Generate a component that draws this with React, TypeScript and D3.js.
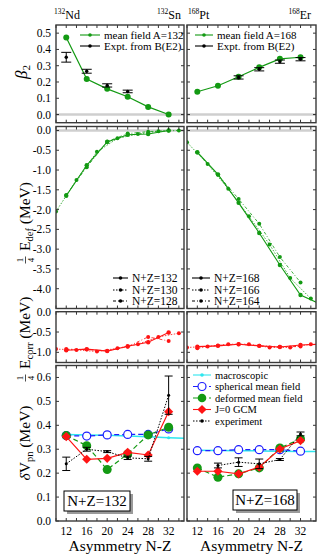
import React from 'react';
import * as d3 from 'd3';

const W = 321;
const H = 557;
const SERIF = "'Liberation Serif', 'DejaVu Serif', serif";

const GREEN = '#139a13';
const RED = '#ff1414';
const BLUE = '#1e1eff';
const CYAN = '#2ee6ee';

// x axis (asymmetry N-Z)
const xTickLabels = [12, 16, 20, 24, 28, 32];
const xMinorTicks = [10, 12, 14, 16, 18, 20, 22, 24, 26, 28, 30, 32, 34];

// y tick labels per row
const betaTicks = [0, 0.1, 0.2, 0.3, 0.4, 0.5];
const edefTicks = [0, -0.5, -1, -1.5, -2, -2.5, -3, -3.5, -4];
const ecorrTicks = [0, -0.5, -1];
const dvTicks = [0, 0.1, 0.2, 0.3, 0.4, 0.5, 0.6];

// beta2 panel
const nzEven4 = [12, 16, 20, 24, 28, 32];
const beta2MfLeft = [0.473, 0.218, 0.158, 0.109, 0.047, 0.0];
const beta2ExpNzLeft = [12, 16, 20, 24];
const beta2ExpLeft = [0.352, 0.266, 0.179, 0.142];
const beta2ErrLeft = [0.03, 0.012, 0.01, 0.008];
const beta2MfRight = [0.14, 0.177, 0.232, 0.29, 0.342, 0.352];
const beta2ExpNzRight = [20, 24, 28, 32];
const beta2ExpRight = [0.228, 0.278, 0.325, 0.34];
const beta2ErrRight = [0.01, 0.01, 0.01, 0.01];

// deformation energy (1/4 E_def)
const nz132 = [12, 16, 20, 24, 28, 32];
const nz130 = [10, 14, 18, 22, 26, 30, 34];
const nz128 = [12, 16, 20, 24, 28, 32];
const edef132 = [-1.65, -0.88, -0.29, -0.11, -0.09, 0.0];
const edef130 = [-2.05, -1.25, -0.54, -0.2, -0.09, -0.02, 0.0];
const edef128 = [-1.63, -0.93, -0.28, -0.08, -0.03, 0.0];
const nz168 = [12, 16, 20, 24, 28, 32, 36];
const nz166 = [10, 14, 18, 22, 26, 30, 34];
const nz164 = [12, 16, 20, 24, 28, 32];
const edef168 = [-0.55, -1.11, -1.83, -2.59, -3.4, -4.16, -4.4];
const edef166 = [-0.3, -0.85, -1.475, -2.17, -2.88, -3.73, -4.25];
const edef164 = [-0.56, -1.12, -1.73, -2.36, -3.2, -3.84];

// correlation energy (1/4 E_corr)
const ecorr132 = [-0.95, -0.92, -0.97, -0.85, -0.75, -0.51];
const ecorr130 = [-0.92, -0.94, -0.98, -0.9, -0.8, -0.62, -0.53];
const ecorr128 = [-0.92, -0.93, -0.96, -0.86, -0.62, -0.72];
const ecorr168 = [-0.86, -0.84, -0.8, -0.84, -0.87, -0.82, -0.8];
const ecorr166 = [-0.88, -0.855, -0.8, -0.8, -0.88, -0.88, -0.8];
const ecorr164 = [-0.9, -0.83, -0.8, -0.84, -0.86, -0.855];

// delta V_pn
const dvMacroNz = [12, 16, 20, 24, 28, 32, 36];
const dvMacroLeft = [0.362, 0.36, 0.358, 0.355, 0.352, 0.348, 0.345];
const dvMacroRight = [0.296, 0.295, 0.294, 0.293, 0.292, 0.291, 0.29];
const dvSphLeft = [0.357, 0.355, 0.36, 0.362, 0.362, 0.385];
const dvDefLeft = [0.357, 0.315, 0.215, 0.28, 0.36, 0.392];
const dvGcmLeft = [0.353, 0.258, 0.262, 0.287, 0.276, 0.457];
const dvExpNzLeft = [12, 16, 20, 24, 28, 32];
const dvExpLeft = [0.239, 0.3, 0.29, 0.264, 0.26, 0.526];
const dvExpErrLeft = [0.028, 0.008, 0.004, 0.007, 0.01, 0.08];
const dvSphRight = [0.294, 0.294, 0.298, 0.298, 0.298, 0.292];
const dvDefRight = [0.222, 0.183, 0.197, 0.222, 0.305, 0.343];
const dvGcmRight = [0.208, 0.208, 0.197, 0.225, 0.301, 0.336];
const dvExpNzRight = [16, 20, 24, 28, 32];
const dvExpRight = [0.232, 0.246, 0.239, 0.257, 0.364];
const dvExpErrRight = [0.01, 0.018, 0.02, 0.004, 0.008];

// layout
const cols = [[56, 184], [187, 316]];
const rows = [[25, 122.7], [126.5, 308.5], [311.7, 362.5], [365.5, 521]];
const rowDomains = [[-0.05, 0.55], [-4.5, 0.1], [-1.25, 0], [0, 0.65]];
const rowTicks = [betaTicks, edefTicks, ecorrTicks, dvTicks];

const fmt = (v: number) => (Math.round(v * 10) / 10 === 0 ? '0.0' : v.toFixed(1));

function linePath(x: any, y: any, nz: number[], vals: number[]) {
  return d3.line<number>().x((_, i) => x(nz[i])).y((d) => y(d))(vals) || '';
}

const diamond = d3.symbol().type(d3.symbolSquare).size(42)() || '';

function Curve({ x, y, nz, vals, color, dash, width = 1, r = 2.2, dots = true }: any) {
  return (
    <g>
      <path d={linePath(x, y, nz, vals)} fill="none" stroke={color} strokeWidth={width} strokeDasharray={dash} />
      {dots && vals.map((v: number, i: number) => (
        <circle key={i} cx={x(nz[i])} cy={y(v)} r={r} fill={color} />
      ))}
    </g>
  );
}

function ErrBars({ x, y, nz, vals, errs, cap = 5, r = 1.7 }: any) {
  return (
    <g>
      {vals.map((v: number, i: number) => {
        const cx = x(nz[i]);
        const y1 = y(v - errs[i]);
        const y2 = y(v + errs[i]);
        return (
          <g key={i}>
            <line x1={cx} x2={cx} y1={y1} y2={y2} stroke="#000" strokeWidth={1} />
            <line x1={cx - cap} x2={cx + cap} y1={y1} y2={y1} stroke="#000" strokeWidth={1} />
            <line x1={cx - cap} x2={cx + cap} y1={y2} y2={y2} stroke="#000" strokeWidth={1} />
            <circle cx={cx} cy={y(v)} r={r} fill="#000" />
          </g>
        );
      })}
    </g>
  );
}

function LegendRow({ x1, x2, y, text, color, dash, marker, size = 11 }: any) {
  const mx = (x1 + x2) / 2;
  return (
    <g>
      <line x1={x1} x2={x2} y1={y} y2={y} stroke={color} strokeWidth={1.1} strokeDasharray={dash} />
      {marker === 'dot' && <circle cx={mx} cy={y} r={1.8} fill={color} />}
      {marker === 'big' && <circle cx={mx} cy={y} r={4.3} fill={color} />}
      {marker === 'open' && <circle cx={mx} cy={y} r={4} fill="#fff" stroke={color} strokeWidth={1.2} />}
      {marker === 'diamond' && <path d={diamond} transform={`translate(${mx},${y}) rotate(45)`} fill={color} />}
      <text x={x2 + 4} y={y} dy="0.35em" fontSize={size} fontFamily={SERIF}>{text}</text>
    </g>
  );
}

function Frac({ fx }: any) {
  return (
    <g>
      <text x={fx} y={-2} textAnchor="middle" fontSize={9} fontFamily={SERIF}>1</text>
      <line x1={fx - 3.5} x2={fx + 3.5} y1={0.5} y2={0.5} stroke="#000" strokeWidth={0.7} />
      <text x={fx} y={8.5} textAnchor="middle" fontSize={9} fontFamily={SERIF}>4</text>
    </g>
  );
}

function Boxed({ x, y, w, h, text }: any) {
  return (
    <g>
      <rect x={x + 3} y={y + 3} width={w} height={h} fill="#9a9a9a" />
      <rect x={x} y={y} width={w} height={h} fill="#fff" stroke="#000" strokeWidth={1} />
      <text x={x + w / 2} y={y + h / 2} dy="0.35em" textAnchor="middle" fontSize={15} fontFamily={SERIF}>{text}</text>
    </g>
  );
}

export default function App() {
  const xs = cols.map(([a, b]) => d3.scaleLinear().domain([10, 35]).range([a, b]));
  const ys = rows.map(([a, b], i) => d3.scaleLinear().domain(rowDomains[i]).range([b, a]));

  const clip = (r: number, c: number) => `url(#clip-${r}-${c})`;

  return (
    <svg width={W} height={H} style={{ position: 'absolute', left: 0, top: 0, background: '#fff' }} fontFamily={SERIF}>
      <defs>
        {rows.map(([y0, y1], r) => cols.map(([x0, x1], c) => (
          <clipPath key={`${r}-${c}`} id={`clip-${r}-${c}`}>
            <rect x={x0} y={y0} width={x1 - x0} height={y1 - y0} />
          </clipPath>
        )))}
      </defs>

      {/* zero reference lines */}
      {[0, 1].map((c) => (
        <g key={c}>
          <line x1={cols[c][0]} x2={cols[c][1]} y1={ys[0](0)} y2={ys[0](0)} stroke="#cfcfcf" strokeWidth={2.5} />
          <line x1={cols[c][0]} x2={cols[c][1]} y1={ys[1](0)} y2={ys[1](0)} stroke="#cfcfcf" strokeWidth={2.5} />
        </g>
      ))}

      {/* row 1: beta2 */}
      <g clipPath={clip(0, 0)}>
        <Curve x={xs[0]} y={ys[0]} nz={nzEven4} vals={beta2MfLeft} color={GREEN} width={1.2} r={3} />
        <ErrBars x={xs[0]} y={ys[0]} nz={beta2ExpNzLeft} vals={beta2ExpLeft} errs={beta2ErrLeft} />
      </g>
      <g clipPath={clip(0, 1)}>
        <Curve x={xs[1]} y={ys[0]} nz={nzEven4} vals={beta2MfRight} color={GREEN} width={1.2} r={3} />
        <ErrBars x={xs[1]} y={ys[0]} nz={beta2ExpNzRight} vals={beta2ExpRight} errs={beta2ErrRight} />
      </g>

      {/* row 2: E_def */}
      <g clipPath={clip(1, 0)}>
        <Curve x={xs[0]} y={ys[1]} nz={nz128} vals={edef128} color={GREEN} dash="3,2,1,2" width={0.8} r={2} />
        <Curve x={xs[0]} y={ys[1]} nz={nz130} vals={edef130} color={GREEN} dash="1.5,1.5" width={0.8} r={2} />
        <Curve x={xs[0]} y={ys[1]} nz={nz132} vals={edef132} color={GREEN} width={1.1} r={2.2} />
      </g>
      <g clipPath={clip(1, 1)}>
        <Curve x={xs[1]} y={ys[1]} nz={nz164} vals={edef164} color={GREEN} dash="3,2,1,2" width={0.8} r={2} />
        <Curve x={xs[1]} y={ys[1]} nz={nz166} vals={edef166} color={GREEN} dash="1.5,1.5" width={0.8} r={2} />
        <Curve x={xs[1]} y={ys[1]} nz={nz168} vals={edef168} color={GREEN} width={1.1} r={2.2} />
      </g>

      {/* row 3: E_corr */}
      <g clipPath={clip(2, 0)}>
        <Curve x={xs[0]} y={ys[2]} nz={nz128} vals={ecorr128} color={RED} dash="3,2,1,2" width={0.8} r={2} />
        <Curve x={xs[0]} y={ys[2]} nz={nz130} vals={ecorr130} color={RED} dash="1.5,1.5" width={0.8} r={2} />
        <Curve x={xs[0]} y={ys[2]} nz={nz132} vals={ecorr132} color={RED} width={1.1} r={2.2} />
      </g>
      <g clipPath={clip(2, 1)}>
        <Curve x={xs[1]} y={ys[2]} nz={nz164} vals={ecorr164} color={RED} dash="3,2,1,2" width={0.8} r={2} />
        <Curve x={xs[1]} y={ys[2]} nz={nz166} vals={ecorr166} color={RED} dash="1.5,1.5" width={0.8} r={2} />
        <Curve x={xs[1]} y={ys[2]} nz={nz168} vals={ecorr168} color={RED} width={1.1} r={2.2} />
      </g>

      {/* row 4: delta V_pn */}
      {[0, 1].map((c) => {
        const x = xs[c];
        const y = ys[3];
        const macro = c === 0 ? dvMacroLeft : dvMacroRight;
        const sph = c === 0 ? dvSphLeft : dvSphRight;
        const def = c === 0 ? dvDefLeft : dvDefRight;
        const gcm = c === 0 ? dvGcmLeft : dvGcmRight;
        const expNz = c === 0 ? dvExpNzLeft : dvExpNzRight;
        const exp = c === 0 ? dvExpLeft : dvExpRight;
        const err = c === 0 ? dvExpErrLeft : dvExpErrRight;
        return (
          <g key={c} clipPath={clip(3, c)}>
            <Curve x={x} y={y} nz={dvMacroNz} vals={macro} color={CYAN} width={1.5} r={1.6} />
            <path d={linePath(x, y, nzEven4, sph)} fill="none" stroke={BLUE} strokeWidth={1.2} strokeDasharray="5,3" />
            {sph.map((v, i) => (
              <circle key={i} cx={x(nzEven4[i])} cy={y(v)} r={4} fill="#fff" stroke={BLUE} strokeWidth={1.2} />
            ))}
            <path d={linePath(x, y, nzEven4, def)} fill="none" stroke={GREEN} strokeWidth={1.2} strokeDasharray="5,3" />
            {def.map((v, i) => (
              <circle key={i} cx={x(nzEven4[i])} cy={y(v)} r={4.5} fill={GREEN} />
            ))}
            <path d={linePath(x, y, nzEven4, gcm)} fill="none" stroke={RED} strokeWidth={1.2} />
            {gcm.map((v, i) => (
              <path key={i} d={diamond} transform={`translate(${x(nzEven4[i])},${y(v)}) rotate(45)`} fill={RED} />
            ))}
            <path d={linePath(x, y, expNz, exp)} fill="none" stroke="#000" strokeWidth={1} strokeDasharray="1.5,1.5" />
            <ErrBars x={x} y={y} nz={expNz} vals={exp} errs={err} cap={4} r={1.5} />
          </g>
        );
      })}

      {/* frames and ticks */}
      {rows.map(([y0, y1], r) => cols.map(([x0, x1], c) => {
        const y = ys[r];
        return (
          <g key={`${r}-${c}`}>
            {xMinorTicks.map((t) => (
              <g key={t}>
                <line x1={xs[c](t)} x2={xs[c](t)} y1={y1} y2={y1 - 3} stroke="#000" strokeWidth={0.8} />
                <line x1={xs[c](t)} x2={xs[c](t)} y1={y0} y2={y0 + 3} stroke="#000" strokeWidth={0.8} />
              </g>
            ))}
            {rowTicks[r].map((t) => (
              <g key={t}>
                <line x1={x0} x2={x0 + 3} y1={y(t)} y2={y(t)} stroke="#000" strokeWidth={0.8} />
                <line x1={x1} x2={x1 - 3} y1={y(t)} y2={y(t)} stroke="#000" strokeWidth={0.8} />
              </g>
            ))}
            <rect x={x0} y={y0} width={x1 - x0} height={y1 - y0} fill="none" stroke="#3a3a3a" strokeWidth={1.4} />
          </g>
        );
      }))}

      {/* y tick labels */}
      {rows.map((_, r) => rowTicks[r].map((t) => (
        <text key={`${r}-${t}`} x={51} y={ys[r](t)} dy="0.35em" textAnchor="end" fontSize={11.5}>{fmt(t)}</text>
      )))}

      {/* x tick labels */}
      {[0, 1].map((c) => xTickLabels.map((t) => (
        <text key={`${c}-${t}`} x={xs[c](t)} y={535} textAnchor="middle" fontSize={11.5}>{t}</text>
      )))}
      {[0, 1].map((c) => (
        <text key={c} x={(cols[c][0] + cols[c][1]) / 2} y={551} textAnchor="middle" fontSize={15.5}>Asymmetry N-Z</text>
      ))}

      {/* nucleus labels */}
      <text x={54} y={19} fontSize={12}><tspan fontSize={7.5} dy={-5}>132</tspan><tspan dy={5}>Nd</tspan></text>
      <text x={181} y={19} fontSize={12} textAnchor="end"><tspan fontSize={7.5} dy={-5}>132</tspan><tspan dy={5}>Sn</tspan></text>
      <text x={188} y={19} fontSize={12}><tspan fontSize={7.5} dy={-5}>168</tspan><tspan dy={5}>Pt</tspan></text>
      <text x={311} y={19} fontSize={12} textAnchor="end"><tspan fontSize={7.5} dy={-5}>168</tspan><tspan dy={5}>Er</tspan></text>

      {/* legends row 1 */}
      <LegendRow x1={80} x2={100} y={35} text="mean field A=132" color={GREEN} marker="dot" />
      <LegendRow x1={80} x2={100} y={46} text="Expt. from B(E2)" color="#000" marker="dot" />
      <LegendRow x1={195} x2={213} y={35} text="mean field A=168" color={GREEN} marker="dot" />
      <LegendRow x1={195} x2={213} y={46} text="Expt. from B(E2)" color="#000" marker="dot" />

      {/* legends row 2 */}
      <LegendRow x1={113} x2={128} y={278} text="N+Z=132" color="#000" marker="dot" size={11.5} />
      <LegendRow x1={113} x2={128} y={290} text="N+Z=130" color="#000" marker="dot" dash="1.5,1.5" size={11.5} />
      <LegendRow x1={113} x2={128} y={301} text="N+Z=128" color="#000" marker="dot" dash="3,2,1,2" size={11.5} />
      <LegendRow x1={192} x2={210} y={278} text="N+Z=168" color="#000" marker="dot" size={11.5} />
      <LegendRow x1={192} x2={210} y={290} text="N+Z=166" color="#000" marker="dot" dash="1.5,1.5" size={11.5} />
      <LegendRow x1={192} x2={210} y={301} text="N+Z=164" color="#000" marker="dot" dash="3,2,1,2" size={11.5} />

      {/* legend row 4 */}
      <LegendRow x1={193} x2={211} y={375} text="macroscopic" color={CYAN} marker="dot" size={10.5} />
      <LegendRow x1={193} x2={211} y={386.5} text="spherical mean field" color={BLUE} marker="open" dash="5,3" size={10.5} />
      <LegendRow x1={193} x2={211} y={398} text="deformed mean field" color={GREEN} marker="big" dash="5,3" size={10.5} />
      <LegendRow x1={193} x2={211} y={409.5} text="J=0 GCM" color={RED} marker="diamond" size={10.5} />
      <LegendRow x1={193} x2={211} y={421} text="experiment" color="#000" marker="dot" dash="1.5,1.5" size={10.5} />

      <Boxed x={64} y={491} w={66} h={20} text="N+Z=132" />
      <Boxed x={233} y={490} w={64} h={20} text="N+Z=168" />

      {/* y axis titles */}
      <text transform="translate(27,72) rotate(-90)" textAnchor="middle" fontSize={17} fontStyle="italic">
        β<tspan fontSize={11} fontStyle="normal" dy={3}>2</tspan>
      </text>
      <g transform="translate(25,221) rotate(-90)">
        <Frac fx={-39} />
        <text x={-30} y={0} dy="0.35em" fontSize={15.5}>E<tspan fontSize={10.5} dy={3}>def</tspan><tspan dy={-3}> (MeV)</tspan></text>
      </g>
      <g transform="translate(25,337) rotate(-90)">
        <Frac fx={-41} />
        <text x={-32} y={0} dy="0.35em" fontSize={15.5}>E<tspan fontSize={10.5} dy={3}>corr</tspan><tspan dy={-3}> (MeV)</tspan></text>
      </g>
      <text transform="translate(25,443) rotate(-90)" textAnchor="middle" dy="0.35em" fontSize={15.5}>
        <tspan fontStyle="italic">δ</tspan>V<tspan fontSize={10.5} dy={3}>pn</tspan><tspan dy={-3}> (MeV)</tspan>
      </text>
    </svg>
  );
}
